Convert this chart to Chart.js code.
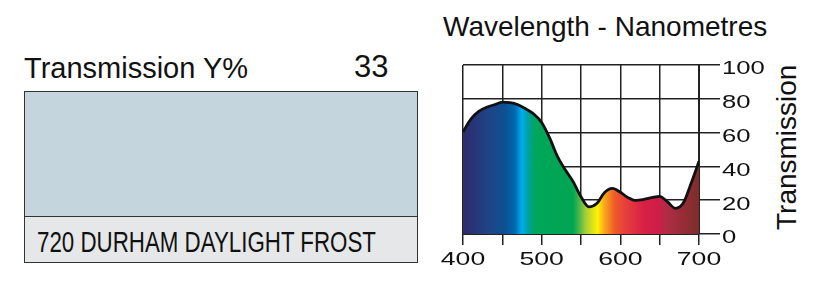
<!DOCTYPE html>
<html>
<head>
<meta charset="utf-8">
<script src="https://cdn.jsdelivr.net/npm/chart.js@4"></script>
<style>
  html, body { margin: 0; padding: 0; background: #fff; }
  body { width: 827px; height: 283px; position: relative; overflow: hidden;
         font-family: "Liberation Sans", Arial, Helvetica, sans-serif; color: #111; }
  .txt { position: absolute; font-size: 28px; line-height: 28px; white-space: nowrap; }
  #swatch { position: absolute; left: 24px; top: 91px; width: 392px; height: 170px;
            border: 1.5px solid #333; background: #e6e7e8; }
  #swatch .color { position: absolute; left: 0; top: 0; right: 0; height: 124px;
                   background: #c5d5dd; border-bottom: 1.5px solid #333; }
  #filterName { font-family: "Liberation Sans Narrow", "Liberation Sans", Arial, sans-serif;
                font-size: 29px; transform-origin: 0 50%; }
  #yTitle { transform-origin: 0 0; transform: rotate(-90deg); }
  #chartBox { position: absolute; left: 420px; top: 0; width: 407px; height: 283px; }
</style>
</head>
<body>
<div class="txt" style="left:24px; top:54px; font-size:29px;">Transmission Y%</div>
<div class="txt" style="left:354px; top:53px; font-size:31px;">33</div>
<div id="swatch"><div class="color"></div></div>
<div class="txt" id="filterName" style="left:37px; top:228px;">720 DURHAM DAYLIGHT FROST</div>
<div class="txt" style="left:443px; top:13px;">Wavelength - Nanometres</div>
<div class="txt" id="yTitle" style="left:773px; top:230px;">Transmission</div>
<div id="chartBox"><canvas id="spectrum" width="407" height="283"></canvas></div>

<script>
const wavelengths = [400, 410, 420, 430, 440, 450, 460, 470, 480, 490, 500, 510, 520, 530, 540, 550,
                     560, 570, 580, 590, 600, 610, 620, 630, 640, 650, 660, 670, 680, 690, 700];
const transmission = [60.5, 68, 72.5, 75, 76.5, 78, 77.8, 76.5, 74, 71, 66, 57, 46, 38, 31, 22,
                      16, 18, 24.6, 27, 24.7, 21.5, 19.9, 20.5, 21.5, 22.3, 19, 15.2, 18.3, 30, 43];
const xTickLabels = [400, 500, 600, 700];
const yTickLabels = [0, 20, 40, 60, 80, 100];

// colour of the visible spectrum along the wavelength axis
const spectrumStops = [
    [400, '#2e2a6e'], [435, '#1d4688'], [452, '#0d4f8f'], [466, '#0069b0'], [475, '#00aeef'],
    [483, '#00a0a0'], [492, '#00a65a'], [540, '#00a651'], [548, '#4cb848'], [556, '#a6ce39'],
    [571, '#fff200'], [580, '#f8a51d'], [593, '#f05a28'], [605, '#e8403b'], [631, '#d71f45'],
    [650, '#cc1e48'], [658, '#b02c45'], [700, '#7d2d2a']
];

// the condensed label has to fit the box like the printed one
const nameEl = document.getElementById('filterName');
nameEl.style.transform = 'scaleX(' + (339 / nameEl.getBoundingClientRect().width) + ')';

const stretchedTicks = {
    id: 'stretchedTicks',
    afterDraw(chart) {
        const ctx = chart.ctx;
        const x = chart.scales.x, y = chart.scales.y;
        ctx.save();
        ctx.fillStyle = '#111';
        ctx.font = '19px "Liberation Sans", Arial, sans-serif';
        ctx.textBaseline = 'alphabetic';
        xTickLabels.forEach(v => {
            const px = x.getPixelForValue(v);
            ctx.save();
            ctx.translate(px, x.top + 31);
            ctx.scale(1.4, 1);
            ctx.textAlign = 'center';
            ctx.fillText(String(v), 0, 0);
            ctx.restore();
        });
        yTickLabels.forEach(v => {
            const py = y.getPixelForValue(v);
            ctx.save();
            ctx.translate(y.left + 23, py + 9.3);
            ctx.scale(1.35, 1);
            ctx.textAlign = 'left';
            ctx.fillText(String(v), 0, 0);
            ctx.restore();
        });
        ctx.restore();
    }
};

const ctx = document.getElementById('spectrum').getContext('2d');
new Chart(ctx, {
    type: 'line',
    data: {
        datasets: [{
            data: wavelengths.map((w, i) => ({ x: w, y: transmission[i] })),
            borderColor: '#111',
            borderWidth: 2.8,
            pointRadius: 0,
            tension: 0.4,
            cubicInterpolationMode: 'monotone',
            fill: 'origin',
            backgroundColor: function (c) {
                const chart = c.chart;
                if (!chart.chartArea) return 'rgba(0,0,0,0)';
                const xs = chart.scales.x;
                const x0 = xs.getPixelForValue(400), x1 = xs.getPixelForValue(700);
                const g = chart.ctx.createLinearGradient(x0, 0, x1, 0);
                spectrumStops.forEach(s => g.addColorStop((s[0] - 400) / 300, s[1]));
                return g;
            }
        }]
    },
    options: {
        responsive: false,
        animation: false,
        devicePixelRatio: 1,
        layout: { padding: { left: 43, top: 65, right: 0, bottom: 0 } },
        plugins: { legend: { display: false }, tooltip: { enabled: false } },
        scales: {
            x: {
                type: 'linear', min: 400, max: 700,
                ticks: { stepSize: 50, color: 'rgba(0,0,0,0)', font: { size: 12 } },
                grid: { color: '#222', lineWidth: 1.5, tickLength: 11 },
                border: { color: '#222', width: 2 },
                afterFit: s => { s.height = 49; }
            },
            y: {
                position: 'right', min: 0, max: 100,
                ticks: { stepSize: 20, color: 'rgba(0,0,0,0)', font: { size: 12 } },
                grid: { color: '#222', lineWidth: 1.5, tickLength: 21 },
                border: { color: '#222', width: 2 },
                afterFit: s => { s.width = 128; }
            }
        }
    },
    plugins: [stretchedTicks]
});
</script>
</body>
</html>
